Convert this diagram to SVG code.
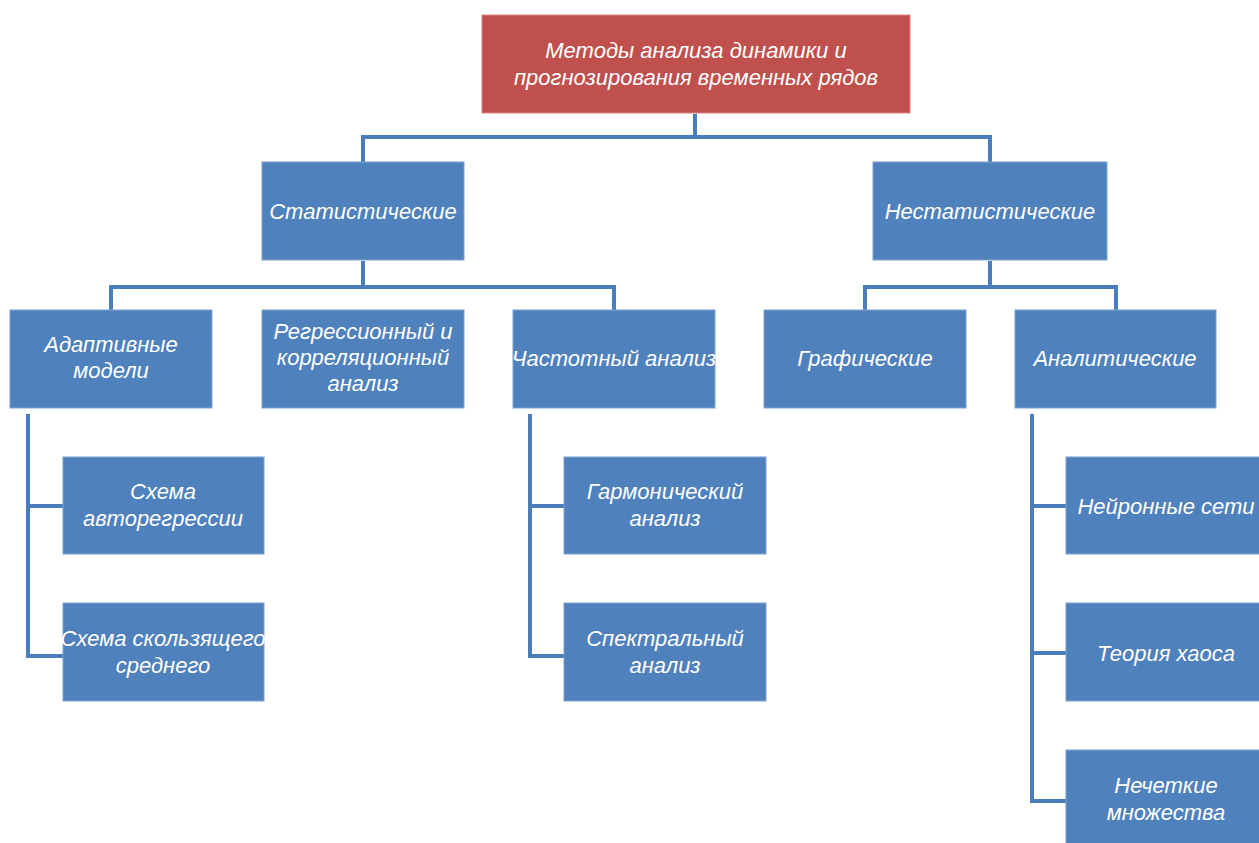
<svg xmlns="http://www.w3.org/2000/svg" width="1259" height="843" viewBox="0 0 1259 843">
<style>
.box{fill:#4F81BD;stroke:#7FA2D0;stroke-width:1}
.root{fill:#C0504D;stroke:#D98785;stroke-width:1}
text{font-family:"Liberation Sans","Noto Sans",sans-serif;font-style:italic;font-size:22px;fill:#fff;text-anchor:middle}
.c{fill:none;stroke:#4A7EBB;stroke-width:4}
</style>
<rect width="1259" height="843" fill="#fff"/>
<g id="connectors">
<path class="c" d="M695,114 V137 M363,162 V137 H990 V162"/>
<path class="c" d="M363,261 V287 M111,310 V287 H614 V310"/>
<path class="c" d="M990,261 V287 M865,310 V287 H1116 V310"/>
<path class="c" d="M28,414 V656 H63 M28,506 H63"/>
<path class="c" d="M530,414 V656 H564 M530,506 H564"/>
<path class="c" d="M1032,414 V801 H1066 M1032,506 H1066 M1032,653 H1066"/>
</g>
<g id="root"><rect class="root" x="482" y="15" width="428" height="98"/><text x="696" y="58">Методы анализа динамики и</text><text x="696" y="85">прогнозирования временных рядов</text></g>
<g id="stat"><rect class="box" x="262" y="162" width="202" height="98"/><text x="363" y="219">Статистические</text></g>
<g id="nonstat"><rect class="box" x="873" y="162" width="234" height="98"/><text x="990" y="219">Нестатистические</text></g>
<g id="adapt"><rect class="box" x="10" y="310" width="202" height="98"/><text x="111" y="352">Адаптивные</text><text x="111" y="378">модели</text></g>
<g id="regr"><rect class="box" x="262" y="310" width="202" height="98"/><text x="363" y="339">Регрессионный и</text><text x="363" y="365">корреляционный</text><text x="363" y="391">анализ</text></g>
<g id="freq"><rect class="box" x="513" y="310" width="202" height="98"/><text x="614" y="366">Частотный анализ</text></g>
<g id="graph"><rect class="box" x="764" y="310" width="202" height="98"/><text x="865" y="366">Графические</text></g>
<g id="analyt"><rect class="box" x="1015" y="310" width="201" height="98"/><text x="1115" y="366">Аналитические</text></g>
<g id="ar"><rect class="box" x="63" y="457" width="201" height="97"/><text x="163" y="499">Схема</text><text x="163" y="526">авторегрессии</text></g>
<g id="ma"><rect class="box" x="63" y="603" width="201" height="98"/><text x="163" y="646">Схема скользящего</text><text x="163" y="673">среднего</text></g>
<g id="harm"><rect class="box" x="564" y="457" width="202" height="97"/><text x="665" y="499">Гармонический</text><text x="665" y="526">анализ</text></g>
<g id="spec"><rect class="box" x="564" y="603" width="202" height="98"/><text x="665" y="646">Спектральный</text><text x="665" y="673">анализ</text></g>
<g id="nn"><rect class="box" x="1066" y="457" width="200" height="97"/><text x="1166" y="514">Нейронные сети</text></g>
<g id="chaos"><rect class="box" x="1066" y="603" width="200" height="98"/><text x="1166" y="661">Теория хаоса</text></g>
<g id="fuzzy"><rect class="box" x="1066" y="750" width="200" height="100"/><text x="1166" y="793">Нечеткие</text><text x="1166" y="820">множества</text></g>
</svg>
